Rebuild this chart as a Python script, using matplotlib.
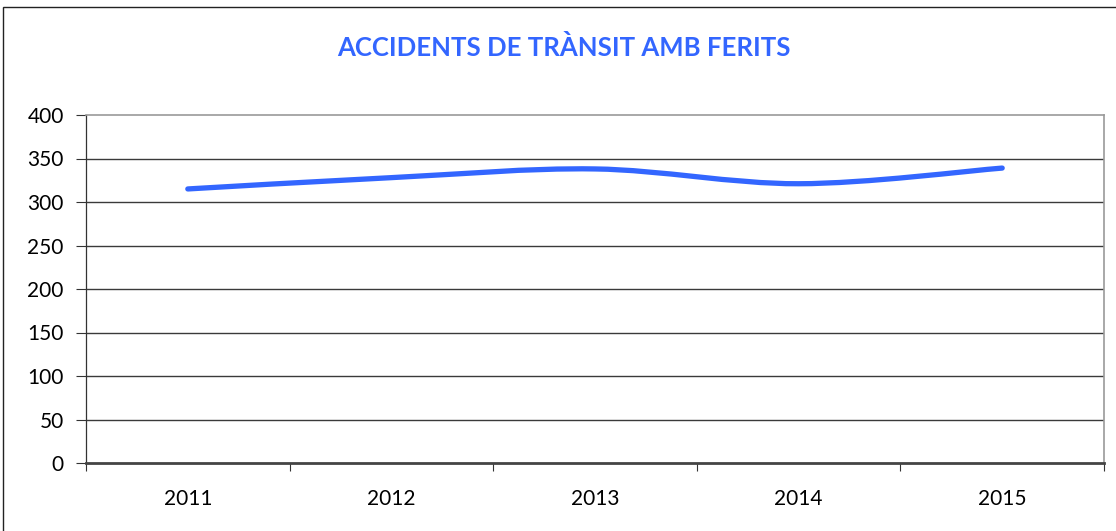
import matplotlib

matplotlib.use("Agg")
import matplotlib.pyplot as plt
import numpy as np
from matplotlib.patches import PathPatch, Rectangle
from matplotlib.path import Path

years = ["2011", "2012", "2013", "2014", "2015"]
accidents = [315, 328, 338, 321, 339]
y_ticks = [0, 50, 100, 150, 200, 250, 300, 350, 400]

title = "ACCIDENTS DE TRÀNSIT AMB FERITS"
blue = "#3366FF"


def smooth_path(xs, ys, tension=1 / 6):
    # Excel-like smoothed line: cubic Bezier through each point
    pts = np.column_stack([xs, ys]).astype(float)
    n = len(pts)
    verts = [pts[0]]
    codes = [Path.MOVETO]
    for i in range(n - 1):
        p0 = pts[max(i - 1, 0)]
        p1 = pts[i]
        p2 = pts[i + 1]
        p3 = pts[min(i + 2, n - 1)]
        c1 = p1 + (p2 - p0) * tension
        c2 = p2 - (p3 - p1) * tension
        verts += [c1, c2, p2]
        codes += [Path.CURVE4] * 3
    return Path(verts, codes)


plt.rcParams["font.family"] = ["Lato", "DejaVu Sans"]
fig = plt.figure(figsize=(11.16, 5.31), dpi=100)
ax = fig.add_axes([86 / 1116, 1 - 463 / 531, (1104 - 86) / 1116, (463 - 115) / 531])

x = np.arange(len(years))
patch = PathPatch(smooth_path(x, accidents), fill=False, edgecolor=blue, lw=3.8,
                  capstyle="round", joinstyle="round", zorder=3)
ax.add_patch(patch)

ax.set_xlim(-0.5, len(years) - 0.5)
ax.set_ylim(0, 400)
ax.set_yticks(y_ticks)
ax.set_yticklabels([str(v) for v in y_ticks])
for v in y_ticks[1:-1]:
    ax.axhline(v, color="#3a3a3a", lw=1.0, zorder=1)

ax.set_xticks(np.arange(len(years) + 1) - 0.5)
ax.set_xticklabels([])
ax.set_xticks(x, minor=True)
ax.set_xticklabels(years, minor=True)
ax.tick_params(axis="x", which="major", length=6, width=0.8, color="#333333")
ax.tick_params(axis="x", which="minor", length=0, pad=19, labelsize=15)
ax.tick_params(axis="y", length=7, width=0.8, color="#333333", pad=9, labelsize=15)

for side in ["top", "right"]:
    ax.spines[side].set_color("#999999")
    ax.spines[side].set_linewidth(1.2)
ax.spines["left"].set_color("#333333")
ax.spines["left"].set_linewidth(0.9)
ax.spines["bottom"].set_color("#444444")
ax.spines["bottom"].set_linewidth(2.0)

fig.text(564 / 1116, 1 - 47 / 531, title, color=blue, fontsize=18.5, fontweight="bold",
         ha="center", va="center")

# outer chart frame
fig.add_artist(Rectangle((3 / 1116, -0.1), 1.2, 1 - 7 / 531 + 0.1, transform=fig.transFigure,
                         fill=False, edgecolor="#222222", lw=1.0))

fig.savefig("out.png", dpi=100)
